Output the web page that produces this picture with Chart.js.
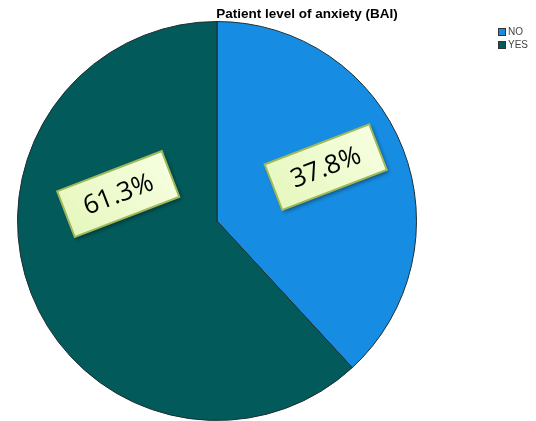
<!DOCTYPE html>
<html>
<head>
<meta charset="utf-8">
<script src="https://cdn.jsdelivr.net/npm/chart.js"></script>
<style>
  html, body { margin: 0; padding: 0; background: #fff; }
  #wrap { position: relative; width: 536px; height: 421px; }
</style>
</head>
<body>
<div id="wrap"><canvas id="pieChart" width="536" height="421"></canvas></div>
<script>
// values
const categories = ['NO', 'YES'];
const percents = [37.8, 61.3];
const sliceColors = ['#168de2', '#025a5a'];
const chartTitle = 'Patient level of anxiety (BAI)';

// draws title, legend and the rotated value boxes
const decorPlugin = {
  id: 'decor',
  afterDraw(chart, args, opts) {
    const ctx = chart.ctx;
    ctx.save();

    // title
    ctx.fillStyle = '#000';
    ctx.font = 'bold 13.5px "Liberation Sans", Arial, sans-serif';
    ctx.textAlign = 'center';
    ctx.textBaseline = 'middle';
    ctx.fillText(chartTitle, opts.titleX, opts.titleY);

    // legend
    ctx.textAlign = 'left';
    ctx.font = '10px "Liberation Sans", Arial, sans-serif';
    categories.forEach((c, i) => {
      const y = opts.legendY + i * 13;
      ctx.fillStyle = sliceColors[i];
      ctx.fillRect(opts.legendX, y, 8, 8);
      ctx.strokeStyle = '#333';
      ctx.lineWidth = 1;
      ctx.strokeRect(opts.legendX + 0.5, y + 0.5, 7, 7);
      ctx.fillStyle = '#444';
      ctx.fillText(c, opts.legendX + 10, y + 4.5);
    });

    // value boxes
    const meta = chart.getDatasetMeta(0);
    meta.data.forEach((arc, i) => {
      const r = arc.outerRadius;
      const off = opts.labelOffsets[i];
      const x = arc.x + off[0] * r;
      const y = arc.y + off[1] * r;
      const w = 112, h = 49;
      ctx.save();
      ctx.translate(x, y);
      ctx.rotate(opts.labelAngle * Math.PI / 180);
      ctx.shadowColor = 'rgba(0,0,0,0.45)';
      ctx.shadowBlur = 4;
      ctx.shadowOffsetX = 2;
      ctx.shadowOffsetY = 2;
      const g = ctx.createLinearGradient(-w / 2, h / 2, w / 2, -h / 2);
      g.addColorStop(0, '#e6f7bd');
      g.addColorStop(1, '#f6ffe0');
      ctx.fillStyle = g;
      ctx.fillRect(-w / 2, -h / 2, w, h);
      ctx.shadowColor = 'transparent';
      ctx.strokeStyle = '#9fb85a';
      ctx.lineWidth = 2;
      ctx.strokeRect(-w / 2, -h / 2, w, h);
      ctx.fillStyle = '#000';
      ctx.font = '26px "Open Sans", sans-serif';
      ctx.textAlign = 'center';
      ctx.textBaseline = 'middle';
      ctx.fillText(percents[i].toFixed(1) + '%', 0, 1);
      ctx.restore();
    });

    ctx.restore();
  }
};

new Chart(document.getElementById('pieChart'), {
  type: 'pie',
  data: {
    labels: categories,
    datasets: [{
      data: percents,
      backgroundColor: sliceColors,
      borderColor: '#1c2f33',
      borderWidth: 1
    }]
  },
  options: {
    responsive: false,
    animation: false,
    layout: { padding: { top: 21, bottom: 0, left: 17, right: 119 } },
    plugins: {
      legend: { display: false },
      title: { display: false },
      tooltip: { enabled: false },
      decor: {
        titleX: 307,
        titleY: 14,
        legendX: 498,
        legendY: 28,
        labelAngle: -21,
        labelOffsets: [[0.545, -0.27], [-0.495, -0.135]]
      }
    }
  },
  plugins: [decorPlugin]
});
</script>
</body>
</html>
